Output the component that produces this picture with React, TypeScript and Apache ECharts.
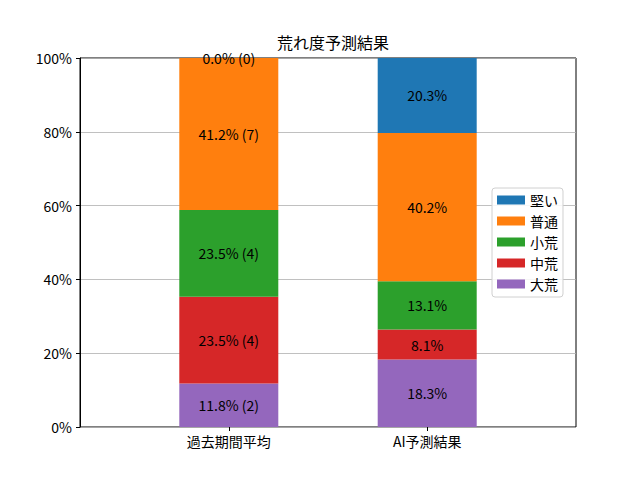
import React, { useEffect, useRef } from "react";
import * as echarts from "echarts";

const categories = ["過去期間平均", "AI予測結果"];
const seriesNames = ["大荒", "中荒", "小荒", "普通", "堅い"];
const seriesColors = ["#9467bd", "#d62728", "#2ca02c", "#ff7f0e", "#1f77b4"];
const pastPercent = [11.8, 23.5, 23.5, 41.2, 0.0];
const pastCounts = [2, 4, 4, 7, 0];
const aiPercent = [18.3, 8.1, 13.1, 40.2, 20.3];
const legendOrder = ["堅い", "普通", "小荒", "中荒", "大荒"];

const FONT = "'Noto Sans CJK JP', 'DejaVu Sans', sans-serif";

export default function App() {
  const ref = useRef<HTMLDivElement>(null);
  useEffect(() => {
    if (!ref.current) return;
    const chart = echarts.init(ref.current, undefined, { renderer: "svg" });
    const series = seriesNames.map((name, i) => ({
      name,
      type: "bar",
      stack: "total",
      xAxisIndex: 1,
      yAxisIndex: 1,
      barWidth: 99,
      itemStyle: { color: seriesColors[i] },
      label: {
        show: true,
        position: "inside",
        color: "#000",
        fontSize: 14,
        fontFamily: FONT,
        formatter: (p: any) =>
          p.dataIndex === 0
            ? `${pastPercent[i].toFixed(1)}% (${pastCounts[i]})`
            : `${aiPercent[i].toFixed(1)}%`,
      },
      data: [pastPercent[i], aiPercent[i]],
    }));
    chart.setOption({
      animation: false,
      title: {
        text: "荒れ度予測結果",
        left: 328,
        textAlign: "center",
        top: 29,
        textStyle: { fontSize: 16, fontWeight: "normal", color: "#000", fontFamily: FONT },
      },
      grid: [
        {
          left: 80,
          right: 64,
          top: 58,
          bottom: 53,
          show: true,
          borderColor: "#000",
          borderWidth: 1,
        },
        {
          left: 129.6,
          right: 113.6,
          top: 58,
          bottom: 53,
        },
      ],
      legend: {
        data: legendOrder,
        orient: "vertical",
        left: 492,
        top: 188,
        itemWidth: 28,
        itemHeight: 9,
        itemGap: 7,
        itemTextGap: 11,
        padding: [5, 5, 6, 5],
        borderColor: "#d0d0d0",
        borderWidth: 1,
        borderRadius: 3,
        backgroundColor: "rgba(255,255,255,0.85)",
        icon: "rect",
        textStyle: { fontSize: 14, lineHeight: 14, color: "#000", fontFamily: FONT },
      },
      xAxis: [
        {
          gridIndex: 0,
          type: "value",
          min: 0,
          max: 1,
          show: true,
          splitLine: { show: false },
          axisLine: { show: false },
          axisTick: { show: false },
          axisLabel: { show: false },
        },
        {
          gridIndex: 1,
          type: "category",
          data: categories,
          axisLine: { show: false },
          axisTick: { show: true, alignWithLabel: true, length: 4, lineStyle: { color: "#000" } },
          axisLabel: {
            color: "#000",
            fontSize: 14,
            fontFamily: FONT,
            margin: 7,
          },
        },
      ],
      yAxis: [
        {
          gridIndex: 0,
          type: "value",
          min: 0,
          max: 100,
          interval: 20,
          axisLine: { show: true, onZero: false, lineStyle: { color: "#000", width: 1 } },
          axisTick: { show: true, length: 4, lineStyle: { color: "#000" } },
          axisLabel: {
            formatter: (v: number) => `${v}%`,
            color: "#000",
            fontSize: 14,
            fontFamily: FONT,
            margin: 8,
          },
          splitLine: { show: true, lineStyle: { color: "#b0b0b0", width: 0.8 } },
        },
        {
          gridIndex: 1,
          type: "value",
          min: 0,
          max: 100,
          show: false,
          splitLine: { show: false },
        },
      ],
      series,
    });
    return () => chart.dispose();
  }, []);
  return <div ref={ref} style={{ width: 640, height: 480, position: "absolute", left: 0, top: 0 }} />;
}
